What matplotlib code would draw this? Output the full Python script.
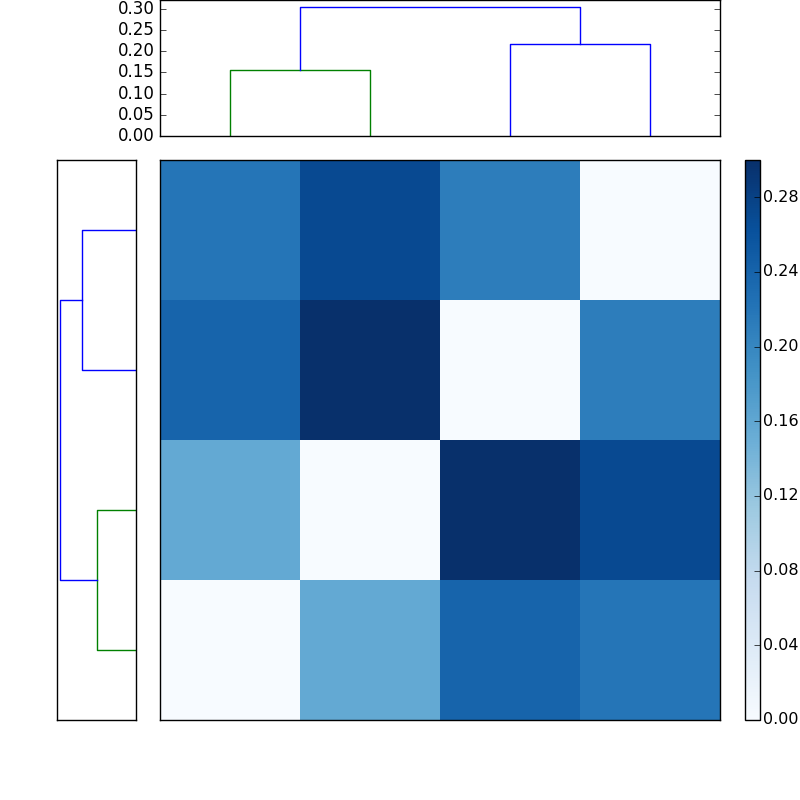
import matplotlib
matplotlib.use("Agg")
import matplotlib.pyplot as plt
import numpy as np

plt.style.use('classic')

# distance matrix (row 0 at bottom)
D = np.array([
    [0.00, 0.156, 0.24, 0.22],
    [0.156, 0.00, 0.30, 0.27],
    [0.24, 0.30, 0.00, 0.21],
    [0.22, 0.27, 0.21, 0.00],
])
leaf_pos = [5, 15, 25, 35]
merge_left = 0.156   # leaves 0,1
merge_right = 0.217  # leaves 2,3
merge_root = 0.305
colors = ['g', 'b', 'b']

def links():
    l1 = ([leaf_pos[0], leaf_pos[0], leaf_pos[1], leaf_pos[1]], [0, merge_left, merge_left, 0])
    l2 = ([leaf_pos[2], leaf_pos[2], leaf_pos[3], leaf_pos[3]], [0, merge_right, merge_right, 0])
    m1 = (leaf_pos[0] + leaf_pos[1]) / 2
    m2 = (leaf_pos[2] + leaf_pos[3]) / 2
    l3 = ([m1, m1, m2, m2], [merge_left, merge_root, merge_root, merge_right])
    return [l1, l2, l3]

fig = plt.figure(figsize=(8, 8), dpi=100)
fig.patch.set_facecolor('white')

ax_top = fig.add_axes([0.2, 0.83, 0.7, 0.17])
for (xs, ys), c in zip(links(), colors):
    ax_top.plot(xs, ys, color=c)
ax_top.set_xlim(0, 40)
ax_top.set_ylim(0, 0.321)
ax_top.set_yticks(np.arange(0, 0.31, 0.05))
ax_top.set_yticklabels(['%.2f' % v for v in np.arange(0, 0.31, 0.05)])
ax_top.set_xticks([])

ax_left = fig.add_axes([0.071, 0.1, 0.099, 0.7])
for (xs, ys), c in zip(links(), colors):
    ax_left.plot(ys, xs, color=c)
ax_left.set_ylim(0, 40)
ax_left.set_xlim(0.317, 0)
ax_left.set_xticks([]); ax_left.set_yticks([])

ax = fig.add_axes([0.2, 0.1, 0.7, 0.7])
im = ax.imshow(D, cmap='Blues', origin='lower', aspect='auto', interpolation='nearest', vmin=0, vmax=0.30)
ax.set_xticks([]); ax.set_yticks([])

cax = fig.add_axes([0.931, 0.1, 0.019, 0.7])
cb = fig.colorbar(im, cax=cax)
cb.set_ticks(np.arange(0, 0.29, 0.04))
cb.set_ticklabels(['%.2f' % v for v in np.arange(0, 0.29, 0.04)])
cax.tick_params(labelsize=11.5, pad=2)

fig.savefig('out.png', dpi=100, facecolor='white')
